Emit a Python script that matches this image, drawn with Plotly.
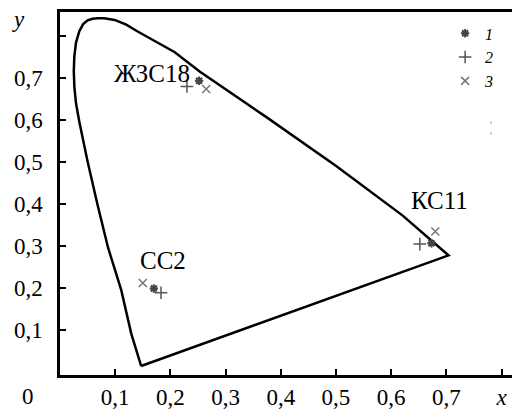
import plotly.graph_objects as go

# Spectral locus outline as drawn in the picture (x, y chromaticity)
locus_x = [0.147, 0.129, 0.111, 0.087, 0.068, 0.050, 0.035, 0.029, 0.026, 0.025, 0.026, 0.029,
           0.035, 0.042, 0.050, 0.059, 0.068, 0.080, 0.099, 0.120, 0.140, 0.162, 0.183, 0.208,
           0.253, 0.374, 0.501, 0.621, 0.704, 0.147]
locus_y = [0.013, 0.091, 0.194, 0.296, 0.398, 0.501, 0.596, 0.640, 0.680, 0.717, 0.752, 0.785,
           0.812, 0.829, 0.838, 0.842, 0.843, 0.843, 0.839, 0.828, 0.812, 0.796, 0.780, 0.762,
           0.716, 0.607, 0.490, 0.372, 0.277, 0.013]

# Measured points: series 1, 2, 3 for samples ЖЗС18, КС11, СС2
s1_x = [0.252, 0.673, 0.170]
s1_y = [0.694, 0.306, 0.198]
s2_x = [0.230, 0.652, 0.183]
s2_y = [0.680, 0.304, 0.188]
s3_x = [0.265, 0.680, 0.150]
s3_y = [0.674, 0.334, 0.211]

sample_names = ["ЖЗС18", "КС11", "СС2"]
label_x = [0.166, 0.687, 0.186]
label_y = [0.712, 0.408, 0.266]

stray_x = [0.781, 0.781]
stray_y = [0.594, 0.568]

xtick_vals = [0.1, 0.2, 0.3, 0.4, 0.5, 0.6, 0.7, 0.8]
xtick_text = ["0,1", "0,2", "0,3", "0,4", "0,5", "0,6", "0,7", "<i>x</i>"]
ytick_vals = [0.1, 0.2, 0.3, 0.4, 0.5, 0.6, 0.7, 0.8]
ytick_text = ["0,1", "0,2", "0,3", "0,4", "0,5", "0,6", "0,7", ""]

FONT = "Times New Roman, Liberation Serif, serif"

fig = go.Figure()
fig.add_trace(go.Scatter(x=locus_x, y=locus_y, mode="lines",
                         line=dict(color="black", width=2.5),
                         showlegend=False, hoverinfo="skip"))
fig.add_trace(go.Scatter(x=s1_x, y=s1_y, mode="markers", name="1",
                         marker=dict(symbol="asterisk-open", size=7, color="#444",
                                     line=dict(width=2, color="#444"))))
fig.add_trace(go.Scatter(x=s2_x, y=s2_y, mode="markers", name="2",
                         marker=dict(symbol="cross-thin-open", size=9, color="#555",
                                     line=dict(width=1.5, color="#555"))))
fig.add_trace(go.Scatter(x=s3_x, y=s3_y, mode="markers", name="3",
                         marker=dict(symbol="x-thin-open", size=8, color="#777",
                                     line=dict(width=1.5, color="#777"))))
fig.add_trace(go.Scatter(x=stray_x, y=stray_y, mode="markers", showlegend=False,
                         marker=dict(size=2, color="#e0a080")))

for n, lx, ly in zip(sample_names, label_x, label_y):
    fig.add_annotation(x=lx, y=ly, text=n, showarrow=False,
                       font=dict(family=FONT, size=25, color="black"))

fig.add_annotation(xref="paper", yref="paper", x=0, y=0, xshift=-32, yshift=-21,
                   xanchor="center", yanchor="middle",
                   text="0", showarrow=False, font=dict(family=FONT, size=23, color="black"))
fig.add_annotation(xref="paper", yref="paper", x=0, y=1, xshift=-42, yshift=-7,
                   xanchor="center", yanchor="middle",
                   text="<i>y</i>", showarrow=False, font=dict(family=FONT, size=23, color="black"))

fig.update_xaxes(range=[0, 0.819], showline=True, linecolor="black", linewidth=2.5,
                 mirror=True, ticks="inside", ticklen=6, tickwidth=1.5, tickcolor="black",
                 tickvals=xtick_vals, ticktext=xtick_text, showgrid=False, zeroline=False,
                 tickfont=dict(family=FONT, size=23, color="black"))
fig.update_yaxes(range=[-0.0085, 0.858], showline=True, linecolor="black", linewidth=2.5,
                 ticks="inside", ticklen=6, tickwidth=1.5, tickcolor="black",
                 tickvals=ytick_vals, ticktext=ytick_text, showgrid=False, zeroline=False,
                 ticklabelstandoff=10,
                 tickfont=dict(family=FONT, size=23, color="black"))

fig.update_layout(width=512, height=410, margin=dict(l=60, r=0, t=12, b=31),
                  paper_bgcolor="white", plot_bgcolor="white",
                  legend=dict(x=0.852, y=0.988, xanchor="left", yanchor="top",
                              bgcolor="rgba(0,0,0,0)", tracegroupgap=0,
                              font=dict(family=FONT, size=16, color="black", style="italic")))

fig.write_html("out.html", config={"displayModeBar": False},
               post_script="document.body.style.margin='0px';")
